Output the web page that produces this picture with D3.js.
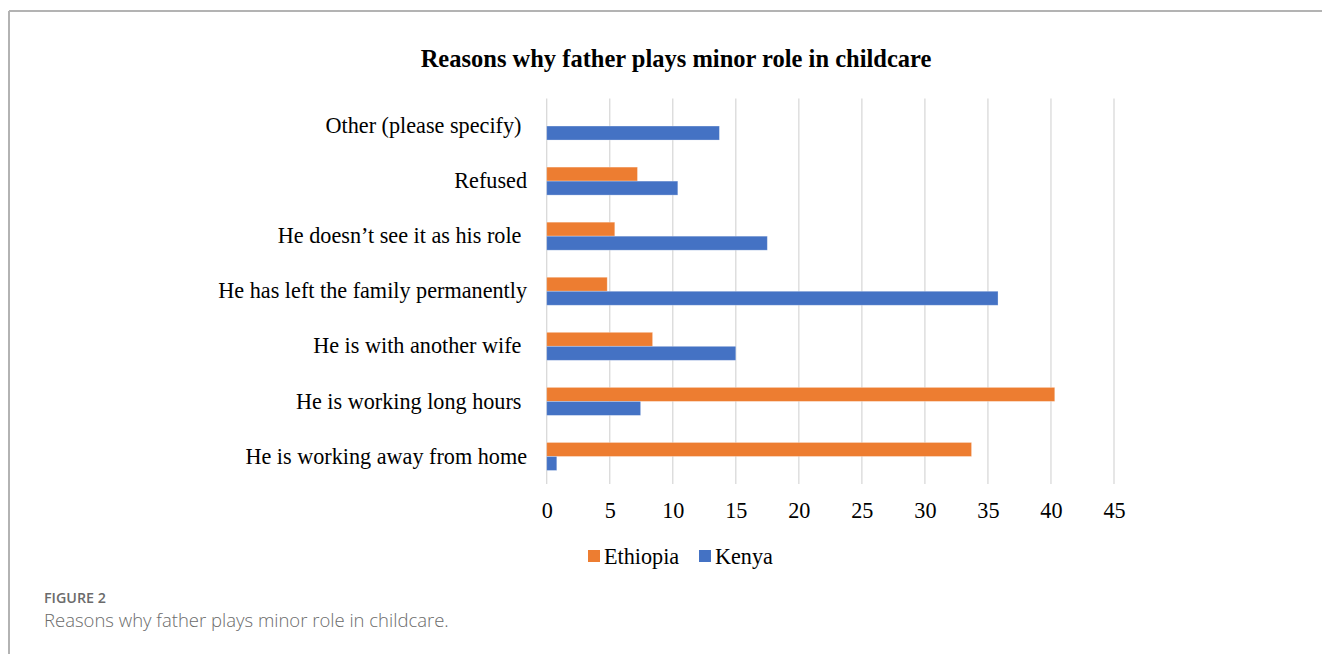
<!DOCTYPE html>
<html>
<head>
<meta charset="utf-8">
<script src="https://cdn.jsdelivr.net/npm/d3@7"></script>
<style>
  body { margin: 0; background: #fff; }
  svg text { white-space: pre; }
</style>
</head>
<body>
<svg id="chart" width="1322" height="654"></svg>
<script>
// chart data
const categories = [
  "Other (please specify) ",
  "Refused",
  "He doesn\u2019t see it as his role ",
  "He has left the family permanently",
  "He is with another wife ",
  "He is working long hours ",
  "He is working away from home"
];
const seriesNames = ["Ethiopia", "Kenya"];
const ethiopia = [0, 7.2, 5.4, 4.8, 8.4, 40.3, 33.7];
const kenya = [13.7, 10.4, 17.5, 35.8, 15.0, 7.45, 0.8];
const ticks = [0, 5, 10, 15, 20, 25, 30, 35, 40, 45];
const colors = ["#ED7D31", "#4472C4"];

const serif = "'Liberation Serif', 'Times New Roman', serif";
const svg = d3.select("#chart");

// outer frame (top + left rule)
svg.append("line").attr("x1", 9).attr("x2", 1322).attr("y1", 11).attr("y2", 11)
   .attr("stroke", "#b3b3b3").attr("stroke-width", 2);
svg.append("line").attr("x1", 9).attr("x2", 9).attr("y1", 11).attr("y2", 654)
   .attr("stroke", "#b3b3b3").attr("stroke-width", 2);

//title
svg.append("text")
   .attr("x", 676).attr("y", 58)
   .attr("text-anchor", "middle").attr("dominant-baseline", "central")
   .style("font-family", serif)
   .style("font-weight", "bold").style("font-size", "24.5px")
   .text("Reasons why father plays minor role in childcare");

//scales
const xscale = d3.scaleLinear().domain([0, 45]).range([546.7, 1114]);
const yscale = d3.scaleBand().domain(categories).range([98.5, 484]).paddingInner(0).paddingOuter(0);
const inner = d3.scaleBand().domain(seriesNames).range([0, 28]);

const g = svg.append("g");

//gridlines
g.selectAll("line.grid").data(ticks).join("line")
   .attr("class", "grid")
   .attr("x1", d => xscale(d)).attr("x2", d => xscale(d))
   .attr("y1", 98.5).attr("y2", 484)
   .attr("stroke", "#d9d9d9").attr("stroke-width", 1.3);

//bars
const rows = categories.map((c, i) => ({ cat: c, vals: [ethiopia[i], kenya[i]] }));
const grp = g.selectAll("g.cat").data(rows).join("g")
   .attr("class", "cat")
   .attr("transform", d => `translate(0,${yscale(d.cat) + yscale.bandwidth() / 2 - 14})`);

grp.selectAll("rect").data(d => d.vals.map((v, j) => ({ s: seriesNames[j], v: v, j: j })))
   .join("rect")
   .attr("x", xscale(0))
   .attr("y", d => inner(d.s))
   .attr("height", inner.bandwidth())
   .attr("width", d => xscale(d.v) - xscale(0))
   .attr("fill", d => colors[d.j])
   .attr("stroke", "#fff").attr("stroke-opacity", 0.35).attr("stroke-width", 0.8);

//category labels
const yaxis = d3.axisLeft(yscale).tickSize(0).tickPadding(0);
const gy = svg.append("g").attr("transform", "translate(527,0)").call(yaxis);
gy.select(".domain").remove();
gy.selectAll("text")
   .style("font-family", serif)
   .style("font-size", "22.2px").attr("fill", "#000");

//x axis tick labels
const xaxis = d3.axisBottom(xscale).tickValues(ticks).tickSize(0).tickPadding(0);
const gx = svg.append("g").attr("transform", "translate(0,502)").call(xaxis);
gx.select(".domain").remove();
gx.selectAll("text")
   .style("font-family", serif)
   .style("font-size", "22.2px").attr("fill", "#000");

//legend
const legendX = [588, 699];
const leg = svg.append("g").selectAll("g").data(seriesNames).join("g")
   .attr("transform", (d, i) => `translate(${legendX[i]},550)`);
leg.append("rect").attr("width", 12).attr("height", 12).attr("fill", (d, i) => colors[i]);
leg.append("text").attr("x", 16).attr("y", 6).attr("dominant-baseline", "central")
   .style("font-family", serif)
   .style("font-size", "22.2px")
   .text(d => d);

//caption
svg.append("text").attr("x", 44).attr("y", 603)
   .style("font-family", "'Open Sans', sans-serif").style("font-weight", 600)
   .style("font-size", "14.3px").attr("fill", "#6b6b6b")
   .text("FIGURE 2");
svg.append("text").attr("x", 44).attr("y", 627)
   .style("font-family", "'Open Sans', sans-serif").style("font-weight", 300)
   .style("font-size", "18.5px").attr("fill", "#6b6b6b")
   .text("Reasons why father plays minor role in childcare.");
</script>
</body>
</html>
